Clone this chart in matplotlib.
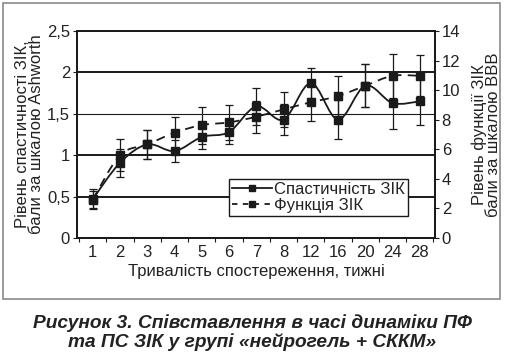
import matplotlib
matplotlib.use('Agg')
import matplotlib.pyplot as plt
from matplotlib.path import Path
from matplotlib.patches import PathPatch, Rectangle
from matplotlib.lines import Line2D

plt.rcParams['font.family'] = ['Liberation Sans', 'DejaVu Sans']

weeks = ['1', '2', '3', '4', '5', '6', '7', '8', '12', '16', '20', '24', '28']
spast = [0.47, 0.91, 1.13, 1.05, 1.22, 1.28, 1.59, 1.43, 1.87, 1.43, 1.84, 1.63, 1.65]
spast_err = [0.12, 0.17, 0.18, 0.13, 0.145, 0.14, 0.22, 0.19, 0.18, 0.24, 0.26, 0.31, 0.28]
func = [2.6, 5.6, 6.33, 7.12, 7.64, 7.82, 8.2, 8.7, 9.18, 9.6, 10.3, 10.97, 10.97]
func_err = [0.6, 1.1, 1.0, 1.05, 1.25, 1.17, 1.08, 1.19, 1.24, 1.37, 1.45, 1.47, 1.4]

ink = '#1a1a1a'
x = list(range(1, len(weeks) + 1))


def smooth_path(xs, ys):
    # Excel-like smoothed line: Catmull-Rom segments as cubic Bezier
    pts = list(zip(xs, ys))
    verts = [pts[0]]
    codes = [Path.MOVETO]
    n = len(pts)
    for i in range(n - 1):
        p0 = pts[i - 1] if i > 0 else pts[i]
        p1 = pts[i]
        p2 = pts[i + 1]
        p3 = pts[i + 2] if i + 2 < n else pts[i + 1]
        c1 = (p1[0] + (p2[0] - p0[0]) / 6, p1[1] + (p2[1] - p0[1]) / 6)
        c2 = (p2[0] - (p3[0] - p1[0]) / 6, p2[1] - (p3[1] - p1[1]) / 6)
        verts += [c1, c2, p2]
        codes += [Path.CURVE4] * 3
    return Path(verts, codes)


fig = plt.figure(figsize=(5.05, 3.55), dpi=100)
fig.patches.append(Rectangle((3 / 505, 1 - 299 / 355), 497 / 505, 296 / 355,
                             transform=fig.transFigure, fill=False,
                             edgecolor='#8a8a8a', lw=1.2))
ax = fig.add_axes([0.1525, 0.3296, 0.7085, 0.5831])
ax2 = ax.twinx()

# left axis: spasticity
ax.add_patch(PathPatch(smooth_path(x, spast), fill=False, edgecolor=ink, lw=1.3, zorder=4))
ax.errorbar(x, spast, yerr=spast_err, fmt='none', ecolor=ink, elinewidth=0.9,
            capsize=2.8, capthick=0.9, zorder=3)
ax.plot(x, spast, linestyle='none', marker='s', markersize=5.5, color=ink, zorder=5)

# right axis: function
ax2.add_patch(PathPatch(smooth_path(x, func), fill=False, edgecolor=ink, lw=1.3,
                        linestyle=(0, (5, 3.5)), zorder=4))
ax2.errorbar(x, func, yerr=func_err, fmt='none', ecolor=ink, elinewidth=0.9,
             capsize=2.8, capthick=0.9, zorder=3)
ax2.plot(x, func, linestyle='none', marker='s', markersize=5.5, color=ink, zorder=5)

ax.set_xlim(0.42, 13.55)
ax.set_ylim(0, 2.5)
ax2.set_ylim(0, 14)
ax.set_yticks([0, 0.5, 1, 1.5, 2, 2.5])
ax.set_yticklabels(['0', '0,5', '1', '1,5', '2', '2,5'])
ax2.set_yticks(range(0, 15, 2))
ax.set_xticks(x)
ax.set_xticklabels(weeks)
ax.set_xticks([i + 0.5 for i in range(0, 14)], minor=True)
ax.tick_params(axis='x', which='major', length=0, pad=5, labelsize=12, labelcolor='#222')
ax.tick_params(axis='x', which='minor', length=3, width=0.8, color=ink)
ax.tick_params(axis='y', length=3, width=0.8, color=ink, labelsize=12, labelcolor='#222', pad=2)
ax2.tick_params(axis='y', length=3, width=0.8, color=ink, labelsize=12, labelcolor='#222', pad=2)

ax.grid(axis='y', color=ink, lw=1.4)
for i, gl in enumerate(ax.get_ygridlines()):
    if i == 3:
        gl.set_linewidth(0.8)
ax.set_axisbelow(True)

for a in (ax, ax2):
    for s in a.spines.values():
        s.set_color(ink)
        s.set_linewidth(1.3)

ax.set_ylabel('Рівень спастичності ЗІК,\nбали за шкалою Ashworth', fontsize=12,
              color='#222', linespacing=0.95, labelpad=2)
ax2.set_ylabel('Рівень функції ЗІК\nбали за шкалою ВВВ', fontsize=12,
               color='#222', linespacing=0.95, rotation=90, labelpad=8)
ax.set_xlabel('Тривалість спостереження, тижні', fontsize=12, color='#222', labelpad=3)

handles = [Line2D([], [], color=ink, lw=1.3, marker='s', markersize=5),
           Line2D([], [], color=ink, lw=1.3, linestyle=(0, (3, 3)), marker='s', markersize=5)]
leg = ax.legend(handles, ['Спастичність ЗІК', 'Функція ЗІК'], loc='lower left',
                bbox_to_anchor=(0.425, 0.106), fontsize=12, frameon=True, fancybox=False,
                edgecolor=ink, framealpha=1, borderpad=0.2, handlelength=2.4,
                handletextpad=0.1, labelspacing=0.05, borderaxespad=0)
leg.get_frame().set_linewidth(1.0)
for t in leg.get_texts():
    t.set_color('#222')
leg.set_zorder(10)
ax.set_zorder(ax2.get_zorder() + 1)
ax.patch.set_visible(False)

fig.text(0.5, 1 - 323 / 355, 'Рисунок 3. Співставлення в часі динаміки ПФ',
         ha='center', va='center', fontsize=13.8, fontweight='bold', style='italic', color='#222')
fig.text(0.5, 1 - 342 / 355, 'та ПС ЗІК у групі «нейрогель + СККМ»',
         ha='center', va='center', fontsize=13.8, fontweight='bold', style='italic', color='#222')

fig.savefig('out.png', dpi=100)
